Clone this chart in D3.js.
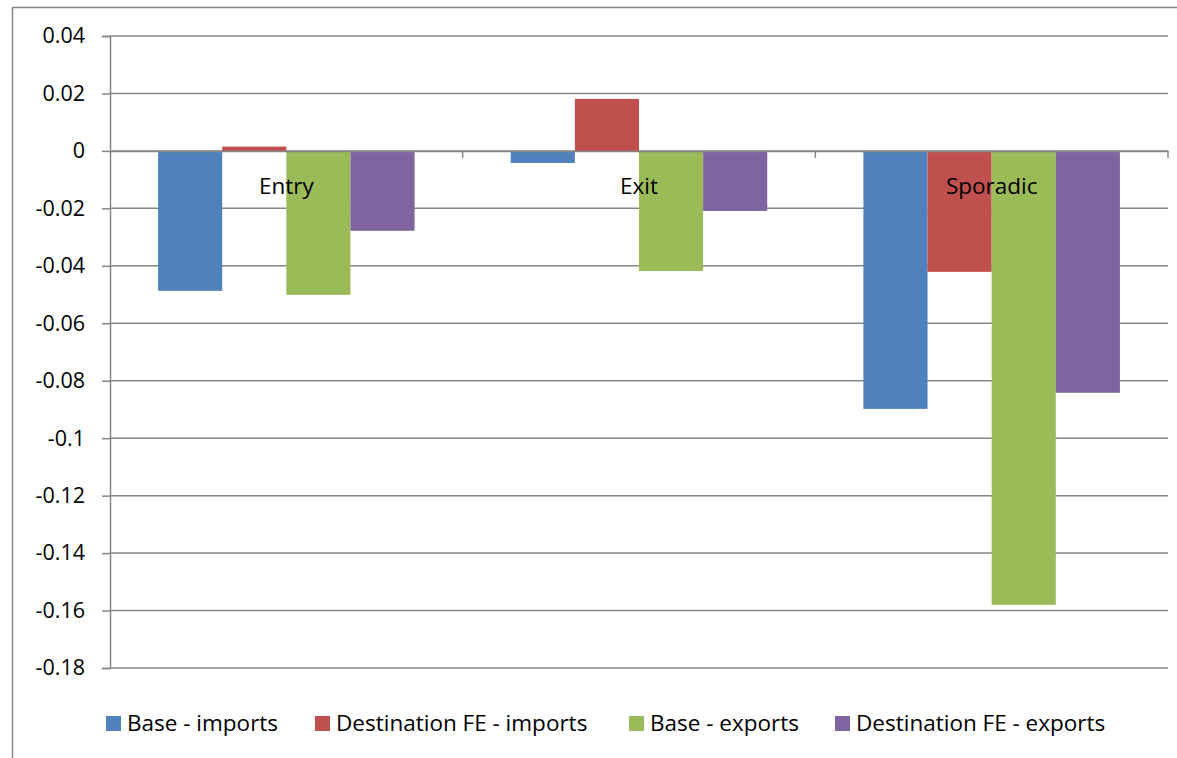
<!DOCTYPE html>
<html>
<head>
<meta charset="utf-8">
<script src="https://cdn.jsdelivr.net/npm/d3@7"></script>
<style>
  html, body { margin: 0; padding: 0; background: #fff; }
  svg { display: block; font-family: "Open Sans", Lato, sans-serif; }
</style>
</head>
<body>
<svg id="chart" width="1177" height="758"></svg>
<script>
// Change in probability by transition type
const categories = ["Entry", "Exit", "Sporadic"];
const seriesNames = ["Base - imports", "Destination FE - imports", "Base - exports", "Destination FE - exports"];
const baseImports = [-0.0487, -0.0042, -0.0898];
const destImports = [0.0015, 0.0181, -0.0421];
const baseExports = [-0.0501, -0.0418, -0.1580];
const destExports = [-0.0278, -0.0209, -0.0842];
const yTicks = [0.04, 0.02, 0, -0.02, -0.04, -0.06, -0.08, -0.1, -0.12, -0.14, -0.16, -0.18];
const colors = ["#4F81BD", "#C0504D", "#9BBB59", "#8064A2"];

const seriesValues = [baseImports, destImports, baseExports, destExports];
const FONT = 22.5;
const TICK_FONT = 21.5;

const svg = d3.select("#chart");
const plot = { left: 110, right: 1168, top: 36, bottom: 668 };

// outer chart frame
svg.append("rect")
  .attr("x", 12.5).attr("y", 7.5)
  .attr("width", 1200).attr("height", 800)
  .attr("fill", "none").attr("stroke", "#868686").attr("stroke-width", 1.5);

const y = d3.scaleLinear().domain([-0.18, 0.04]).range([plot.bottom, plot.top]);
const x0 = d3.scaleBand().domain(categories).range([plot.left, plot.right]).paddingInner(0).paddingOuter(0);
// 4 bars + 150% gap per category
const groupFrac = 4 / 5.5;
const x1 = d3.scaleBand().domain(d3.range(4))
  .range([0, x0.bandwidth() * groupFrac]);
const groupOffset = x0.bandwidth() * (1 - groupFrac) / 2;

// horizontal gridlines
svg.append("g")
  .selectAll("line")
  .data(yTicks)
  .join("line")
  .attr("x1", plot.left).attr("x2", plot.right)
  .attr("y1", d => y(d)).attr("y2", d => y(d))
  .attr("stroke", "#868686").attr("stroke-width", 1.5);

// y axis
const yAxis = d3.axisLeft(y)
  .tickValues(yTicks)
  .tickSize(8)
  .tickPadding(17)
  .tickFormat(d => String(+d.toFixed(2)));
const gy = svg.append("g").attr("transform", `translate(${plot.left},0)`).call(yAxis);
gy.select(".domain").attr("stroke", "#868686").attr("stroke-width", 1.5);
gy.selectAll(".tick line").attr("stroke", "#868686").attr("stroke-width", 1.5);
gy.selectAll(".tick text").attr("font-size", TICK_FONT).attr("fill", "#000")
  .attr("font-family", "'Open Sans', Lato, sans-serif");

// bars
const groups = svg.append("g")
  .selectAll("g")
  .data(categories)
  .join("g")
  .attr("transform", d => `translate(${x0(d) + groupOffset},0)`);

groups.selectAll("rect")
  .data((c, ci) => seriesValues.map((vals, si) => ({ si, v: vals[ci] })))
  .join("rect")
  .attr("x", d => x1(d.si))
  .attr("width", x1.bandwidth())
  .attr("y", d => y(Math.max(0, d.v)))
  .attr("height", d => Math.abs(y(d.v) - y(0)))
  .attr("fill", d => colors[d.si]);

// category axis on the zero line
const xAxis = d3.axisBottom(x0).tickSize(0).tickFormat("");
const gx = svg.append("g").attr("transform", `translate(0,${y(0)})`).call(xAxis);
gx.select(".domain").attr("stroke", "#868686").attr("stroke-width", 1.5);
// category boundary ticks
svg.append("g")
  .selectAll("line")
  .data(categories)
  .join("line")
  .attr("x1", d => x0(d) + x0.bandwidth()).attr("x2", d => x0(d) + x0.bandwidth())
  .attr("y1", y(0)).attr("y2", y(0) + 7)
  .attr("stroke", "#868686").attr("stroke-width", 1.5);

// category labels
svg.append("g")
  .selectAll("text")
  .data(categories)
  .join("text")
  .attr("x", d => x0(d) + x0.bandwidth() / 2)
  .attr("y", y(0) + 43)
  .attr("text-anchor", "middle")
  .attr("font-size", FONT)
  .attr("fill", "#000")
  .text(d => d);

// legend
const legendX = [106, 315, 629, 835];
const legend = svg.append("g")
  .selectAll("g")
  .data(seriesNames)
  .join("g")
  .attr("transform", (d, i) => `translate(${legendX[i]},716)`);
legend.append("rect").attr("width", 15).attr("height", 15).attr("fill", (d, i) => colors[i]);
legend.append("text").attr("x", 21).attr("y", 14.5).attr("font-size", FONT).attr("fill", "#000").text(d => d);
</script>
</body>
</html>
